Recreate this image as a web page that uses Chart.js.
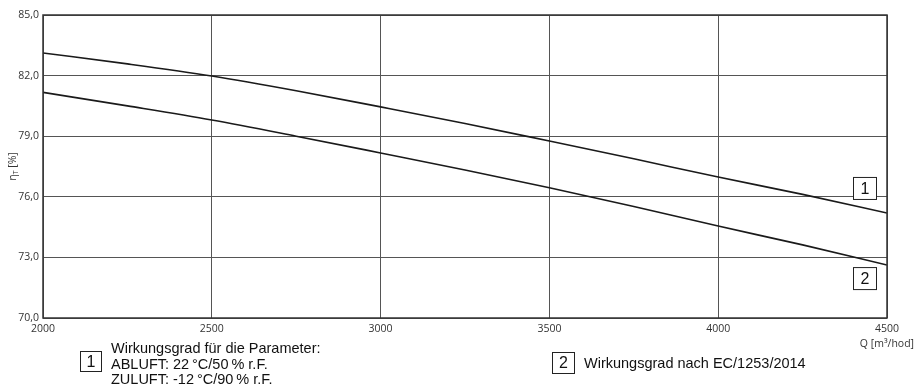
<!DOCTYPE html>
<html>
<head>
<meta charset="utf-8">
<script src="https://cdn.jsdelivr.net/npm/chart.js@4.4.1/dist/chart.umd.min.js"></script>
<style>
  html, body { margin: 0; padding: 0; background: #fff; }
  #wrap { position: relative; width: 916px; height: 388px; }
  canvas { display: block; }
</style>
</head>
<body>
<div id="wrap"><canvas id="c" width="916" height="388"></canvas></div>
<script>
// Airflow Q [m³/hod]
const flow = [2000, 2250, 2500, 2750, 3000, 3250, 3500, 3750, 4000, 4250, 4500];
// Curve 1: efficiency at ABLUFT 22 °C/50 % r.F., ZULUFT -12 °C/90 % r.F.
const effParams = [83.12, 82.58, 81.98, 81.25, 80.45, 79.63, 78.76, 77.88, 76.98, 76.12, 75.2];
// Curve 2: efficiency according to EC/1253/2014
const effEC = [81.17, 80.50, 79.80, 79.00, 78.17, 77.33, 76.45, 75.52, 74.55, 73.62, 72.62];

const yTicks = [70, 73, 76, 79, 82, 85];
const xTicks = [2000, 2500, 3000, 3500, 4000, 4500];

const legend1 = ['Wirkungsgrad für die Parameter:', 'ABLUFT: 22\u202F°C/50\u202F% r.F.', 'ZULUFT: -12\u202F°C/90\u202F% r.F.'];
const legend2 = 'Wirkungsgrad nach EC/1253/2014';
const xTitle = 'Q [m³/hod]';

const toXY = (vals) => vals.map((v, i) => ({ x: flow[i], y: v }));

const TICK_FONT = { family: '"Open Sans", sans-serif', size: 10.5 };
const LABEL_FONT = '"Liberation Sans", Arial, sans-serif';

function numberBox(ctx, x, y, w, h, txt) {
  ctx.save();
  ctx.fillStyle = '#fff';
  ctx.fillRect(x, y, w, h);
  ctx.strokeStyle = '#222';
  ctx.lineWidth = 1;
  ctx.strokeRect(x + 0.5, y + 0.5, w - 1, h - 1);
  ctx.fillStyle = '#111';
  ctx.font = '16px ' + LABEL_FONT;
  ctx.textAlign = 'center';
  ctx.textBaseline = 'middle';
  ctx.fillText(txt, x + w / 2, y + h / 2 + 1);
  ctx.restore();
}

const decorations = {
  id: 'decorations',
  afterDraw(chart) {
    const ctx = chart.ctx;
    const a = chart.chartArea;
    const ys = chart.scales.y;

    // plot frame
    ctx.save();
    ctx.strokeStyle = '#333';
    ctx.lineWidth = 1.5;
    ctx.strokeRect(a.left, a.top, a.right - a.left, a.bottom - a.top);
    ctx.restore();

    // curve markers at the right edge
    numberBox(ctx, a.right - 34, ys.getPixelForValue(effParams[effParams.length - 1]) - 36, 24, 23, '1');
    numberBox(ctx, a.right - 34, ys.getPixelForValue(effEC[effEC.length - 1]) + 2, 24, 23, '2');

    // y axis title: eta with subscript T
    ctx.save();
    ctx.translate(13, (a.top + a.bottom) / 2);
    ctx.rotate(-Math.PI / 2);
    ctx.fillStyle = '#333';
    ctx.textBaseline = 'middle';
    const eta = 'η';
    const sub = 'T';
    const rest = ' [%]';
    ctx.font = '10.5px "Open Sans", sans-serif';
    const wEta = ctx.measureText(eta).width;
    const wRest = ctx.measureText(rest).width;
    ctx.font = '7px "Open Sans", sans-serif';
    const wSub = ctx.measureText(sub).width;
    const x0 = -(wEta + wSub + wRest) / 2;
    ctx.font = '10.5px "Open Sans", sans-serif';
    ctx.fillText(eta, x0, 0);
    ctx.font = '7px "Open Sans", sans-serif';
    ctx.fillText(sub, x0 + wEta, 3);
    ctx.font = '10.5px "Open Sans", sans-serif';
    ctx.fillText(rest, x0 + wEta + wSub, 0);
    ctx.restore();

    // x axis title
    ctx.save();
    ctx.fillStyle = '#333';
    ctx.font = '10.5px "Open Sans", sans-serif';
    ctx.textAlign = 'right';
    ctx.textBaseline = 'middle';
    ctx.fillText(xTitle, 914, a.bottom + 26);
    ctx.restore();

    // legend below the chart
    numberBox(ctx, 80, 351, 22, 21, '1');
    ctx.save();
    ctx.fillStyle = '#111';
    ctx.font = '14.5px ' + LABEL_FONT;
    ctx.textBaseline = 'alphabetic';
    const baselines = [353, 368.5, 384];
    legend1.forEach((t, i) => ctx.fillText(t, 111, baselines[i]));
    ctx.restore();

    numberBox(ctx, 552, 352, 23, 22, '2');
    ctx.save();
    ctx.fillStyle = '#111';
    ctx.font = '14.5px ' + LABEL_FONT;
    ctx.textBaseline = 'alphabetic';
    ctx.fillText(legend2, 584, 368);
    ctx.restore();
  }
};

new Chart(document.getElementById('c'), {
  type: 'line',
  data: {
    datasets: [
      { label: '1', data: toXY(effParams), borderColor: '#1a1a1a', borderWidth: 1.6, pointRadius: 0, tension: 0.4, cubicInterpolationMode: 'monotone', fill: false },
      { label: '2', data: toXY(effEC), borderColor: '#1a1a1a', borderWidth: 1.6, pointRadius: 0, tension: 0.4, cubicInterpolationMode: 'monotone', fill: false }
    ]
  },
  options: {
    responsive: false,
    animation: false,
    events: [],
    layout: { padding: { top: 15, right: 29, left: 0, bottom: 0 } },
    plugins: { legend: { display: false }, tooltip: { enabled: false } },
    scales: {
      x: {
        type: 'linear',
        min: xTicks[0],
        max: xTicks[xTicks.length - 1],
        afterBuildTicks: (s) => { s.ticks = xTicks.map(v => ({ value: v })); },
        afterFit: (s) => { s.height = 70; },
        border: { display: false },
        grid: { color: '#555', lineWidth: 1, drawTicks: false },
        ticks: { color: '#333', font: TICK_FONT, padding: 5, maxRotation: 0, callback: (v) => String(v) }
      },
      y: {
        min: yTicks[0],
        max: yTicks[yTicks.length - 1],
        afterBuildTicks: (s) => { s.ticks = yTicks.map(v => ({ value: v })); },
        afterFit: (s) => { s.width = 43; },
        border: { display: false },
        grid: { color: '#555', lineWidth: 1, drawTicks: false },
        ticks: { color: '#333', font: TICK_FONT, padding: 4, callback: (v) => v.toFixed(1).replace('.', ',') }
      }
    }
  },
  plugins: [decorations]
});
</script>
</body>
</html>
